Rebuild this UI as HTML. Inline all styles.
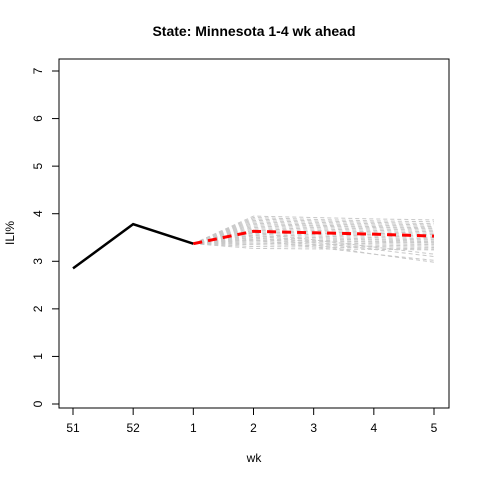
<!DOCTYPE html>
<html><head><style>
body{margin:0;background:#fff;}
svg text{font-family:"Liberation Sans",sans-serif;}
</style></head><body>
<svg id="chart" width="480" height="480" viewBox="0 0 480 480" xmlns="http://www.w3.org/2000/svg">
<rect width="480" height="480" fill="#fff"/>
<text x="254" y="36" text-anchor="middle" font-size="14" font-weight="bold">State: Minnesota 1-4 wk ahead</text>
<text x="254" y="462" text-anchor="middle" font-size="12">wk</text>
<text transform="translate(14,233) rotate(-90)" text-anchor="middle" font-size="12">ILI%</text>
<rect x="59" y="59" width="390" height="349" fill="none" stroke="#000"/>
<g id="gray"></g><g id="obs"></g><g id="axes"></g>
</svg>
<script>
const xLabels=["51","52","1","2","3","4","5"];
const yTicks=[0,1,2,3,4,5,6,7];
const observed=[2.85,3.78,3.37];
const meanForecast=[3.37,3.63,3.60,3.57,3.53];
const sims=[
[3.37,3.95,3.92,3.89,3.87],[3.37,3.92,3.88,3.85,3.83],[3.37,3.89,3.85,3.82,3.79],
[3.37,3.86,3.82,3.79,3.76],[3.37,3.83,3.79,3.76,3.73],[3.37,3.80,3.76,3.73,3.70],
[3.37,3.77,3.74,3.71,3.68],[3.37,3.74,3.71,3.68,3.65],[3.37,3.71,3.68,3.65,3.62],
[3.37,3.68,3.65,3.62,3.59],[3.37,3.65,3.62,3.59,3.56],[3.37,3.62,3.59,3.56,3.53],
[3.37,3.59,3.56,3.53,3.50],[3.37,3.56,3.53,3.50,3.47],[3.37,3.53,3.50,3.47,3.45],
[3.37,3.50,3.47,3.45,3.42],[3.37,3.47,3.44,3.42,3.40],[3.37,3.44,3.42,3.40,3.38],
[3.37,3.41,3.39,3.37,3.35],[3.37,3.38,3.36,3.34,3.32],[3.37,3.35,3.33,3.31,3.29],
[3.37,3.31,3.30,3.28,3.26],[3.37,3.27,3.26,3.25,3.24],[3.37,3.55,3.40,3.25,3.10],
[3.37,3.50,3.35,3.15,3.02],[3.37,3.60,3.45,3.30,3.15],[3.37,3.45,3.30,3.15,2.98]
];
const X=i=>73+i*(434-73)/6;
const Y=v=>404-v*(404-71)/7;
const NS="http://www.w3.org/2000/svg";
function mk(t,a,p){const e=document.createElementNS(NS,t);for(const k in a)e.setAttribute(k,a[k]);p.appendChild(e);return e;}
const gray=document.getElementById('gray'),obs=document.getElementById('obs'),axes=document.getElementById('axes');
sims.forEach((s,j)=>{
 const pl=mk('polyline',{points:s.map((v,i)=>X(i+2)+','+Y(v)).join(' '),fill:'none',stroke:'#c8c8c8','stroke-dasharray':'4,3','stroke-width':1},gray);
 
 
});
const ol=mk('polyline',{points:observed.map((v,i)=>X(i)+','+Y(v)).join(' '),fill:'none',stroke:'#000','stroke-width':2.5},obs);


const ml=mk('polyline',{points:meanForecast.map((v,i)=>X(i+2)+','+Y(v)).join(' '),fill:'none',stroke:'#f00','stroke-width':3,'stroke-dasharray':'9,6'},obs);


mk('line',{x1:X(0),x2:X(6),y1:408,y2:408,stroke:'#000'},axes);
xLabels.forEach((l,i)=>{
 mk('line',{x1:X(i),x2:X(i),y1:408,y2:415,stroke:'#000'},axes);
 const t=mk('text',{x:X(i),y:432,'text-anchor':'middle','font-size':12},axes);t.textContent=l;
 
 
});
yTicks.forEach(v=>{
 mk('line',{x1:52,x2:59,y1:Y(v),y2:Y(v),stroke:'#000'},axes);
 const t=mk('text',{x:0,y:0,'text-anchor':'middle','font-size':12,transform:`translate(42,${Y(v)}) rotate(-90)`},axes);t.textContent=v;
 
 
});
mk('line',{x1:59,x2:59,y1:Y(0),y2:Y(7),stroke:'#000'},axes);
</script>
</body></html>
